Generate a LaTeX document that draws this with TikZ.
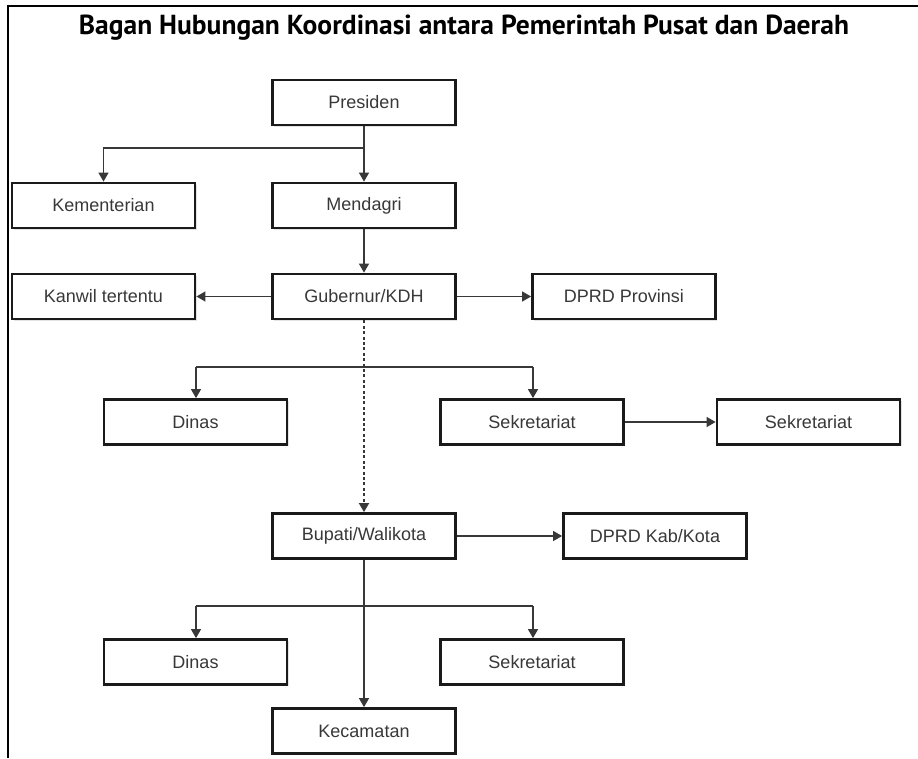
\documentclass[tikz,border=0pt]{standalone}
\usepackage{fontspec}
\setmainfont{Liberation Sans}
\newfontfamily\titlefont{PT Sans}
\usetikzlibrary{arrows.meta,shadows}

\definecolor{boxline}{HTML}{1A1A1A}
\definecolor{boxtext}{HTML}{383838}
\definecolor{linkcol}{HTML}{383838}

\tikzset{
  orgbox/.style={draw=boxline, line width=2.8pt, fill=white,
    minimum width=183pt, minimum height=45pt, inner sep=0pt,
    font=\fontsize{18}{20}\selectfont, text=boxtext,
    drop shadow={shadow xshift=1.8pt, shadow yshift=-1.8pt, opacity=0.22, fill=gray}},
  link/.style={draw=linkcol, line width=1.3pt, -{Triangle[width=10pt,length=9pt]}},
  plainlink/.style={draw=linkcol, line width=1.3pt},
  dotlink/.style={draw=linkcol, line width=1.8pt, dash pattern=on 3pt off 2.4pt,
    -{Triangle[width=10pt,length=9pt]}},
}

\begin{document}
\begin{tikzpicture}[x=1pt, y=-1pt]
  \useasboundingbox (0,0) rectangle (918,758);
  % outer frame (top and left only)
  \draw[line width=2pt, black] (918,6) -- (8,6) -- (8,758);

  % title
  \node (title) at (464,28) {\titlefont\bfseries\resizebox{770pt}{!}{Bagan Hubungan Koordinasi antara Pemerintah Pusat dan Daerah}};

  % boxes
  \node[orgbox] (pres)  at (364,102.5) {Presiden};
  \node[orgbox] (kem)   at (103.5,205.5) {Kementerian};
  \node[orgbox] (mend)  at (364,205.5) {Mendagri};
  \node[orgbox] (kanw)  at (103.5,296.5) {Kanwil tertentu};
  \node[orgbox] (gub)   at (364,296.5) {Gubernur/KDH};
  \node[orgbox] (dprdp) at (624,296.5) {DPRD Provinsi};
  \node[orgbox] (din1)  at (195.5,422) {Dinas};
  \node[orgbox] (sek1)  at (532,422) {Sekretariat};
  \node[orgbox] (sek2)  at (808.5,422) {Sekretariat};
  \node[orgbox] (bup)   at (364,536) {Bupati/Walikota};
  \node[orgbox] (dprdk) at (655,536) {DPRD Kab/Kota};
  \node[orgbox] (din2)  at (195.5,662) {Dinas};
  \node[orgbox] (sek3)  at (532,662) {Sekretariat};
  \node[orgbox] (kec)   at (364,731) {Kecamatan};

  % branch points
  \coordinate (j1) at (364,148);
  \coordinate (j2a) at (196,367);
  \coordinate (j2b) at (533,367);
  \coordinate (j3a) at (196,606);
  \coordinate (j3b) at (533,606);

  % connectors
  \draw[link] (pres.south) -- (mend.north);
  \draw[link] (j1) -| (kem.north);
  \draw[link] (mend.south) -- (gub.north);
  \draw[link] (gub.west) -- (kanw.east);
  \draw[link] (gub.east) -- (dprdp.west);
  \draw[dotlink] (gub.south) -- (bup.north);
  \draw[plainlink] (j2a) -- (j2b);
  \draw[link] (j2a) -- (din1.north -| j2a);
  \draw[link] (j2b) -- (sek1.north -| j2b);
  \draw[link] (sek1.east) -- (sek2.west);
  \draw[link] (bup.east) -- (dprdk.west);
  \draw[link] (bup.south) -- (kec.north);
  \draw[plainlink] (j3a) -- (j3b);
  \draw[link] (j3a) -- (din2.north -| j3a);
  \draw[link] (j3b) -- (sek3.north -| j3b);
\end{tikzpicture}
\end{document}
